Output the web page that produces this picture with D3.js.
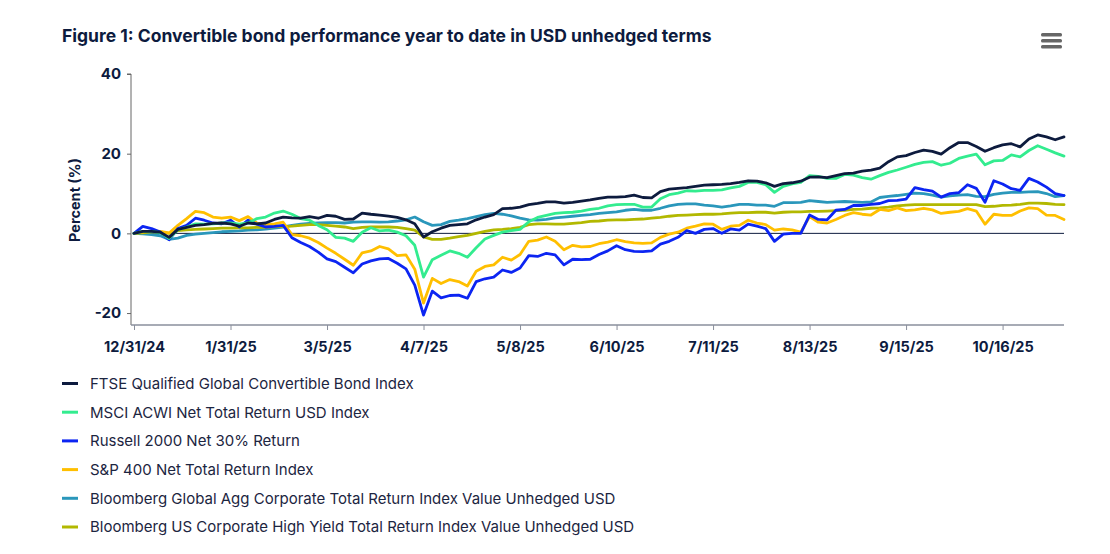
<!DOCTYPE html>
<html>
<head>
<meta charset="utf-8">
<script src="https://cdn.jsdelivr.net/npm/d3@7"></script>
<style>
  html, body { margin: 0; padding: 0; background: #fff; }
  svg { display: block; font-family: Inter, "Noto Sans", sans-serif; }
</style>
</head>
<body>
<div id="chart"></div>
<script>
// values every 2nd trading day, starting 12/31/24
const step = 2
const tickLabels = ["12/31/24", "1/31/25", "3/5/25", "4/7/25", "5/8/25", "6/10/25", "7/11/25", "8/13/25", "9/15/25", "10/16/25"]
const tickEvery = 22

const ftse = [
  0, 0.5, 0.5, 0.3, -1.0, 1.0, 1.5, 2.0, 2.2, 2.5,
  2.6, 2.4, 1.8, 2.6, 2.4, 2.6, 3.5, 4.1, 3.9, 3.8,
  4.2, 3.8, 4.5, 4.3, 3.5, 3.6, 5.1, 4.8, 4.6, 4.3,
  4.0, 3.4, 2.4, -0.9, 0.4, 1.3, 2.0, 2.2, 2.4, 3.4,
  4.1, 4.7, 6.2, 6.3, 6.6, 7.2, 7.5, 7.9, 7.9, 7.6,
  7.8, 8.1, 8.4, 8.8, 9.1, 9.1, 9.2, 9.6, 9.0, 8.9,
  10.5, 11.1, 11.3, 11.5, 11.8, 12.1, 12.2, 12.3, 12.5, 12.8,
  13.2, 13.1, 12.7, 11.8, 12.5, 12.7, 13.1, 14.1, 14.2, 14.0,
  14.5, 15.0, 15.1, 15.6, 15.9, 16.4, 18.0, 19.2, 19.5, 20.3,
  20.9, 20.6, 19.9, 21.5, 22.8, 22.8, 21.8, 20.6, 21.5, 22.2,
  22.5, 21.7, 23.7, 24.7, 24.2, 23.5, 24.2
]
const msci = [
  0, 0.5, 0.5, 0.2, -1.3, 0.9, 1.6, 2.4, 2.3, 2.4,
  2.6, 2.6, 2.3, 2.6, 3.7, 4.1, 5.1, 5.6, 4.8, 3.7,
  3.3, 2.0, 0.9, -1.0, -1.2, -2.0, 0.3, 1.4, 0.6, 0.8,
  0.3, -0.6, -3.0, -11.0, -6.6, -5.5, -4.4, -5.0, -6.0, -3.6,
  -1.4, -0.5, 0.3, 0.7, 1.0, 2.9, 4.0, 4.5, 5.0, 5.2,
  5.3, 5.6, 6.0, 6.3, 6.9, 7.2, 7.3, 7.3, 6.6, 6.6,
  8.7, 9.7, 10.1, 10.7, 10.6, 10.8, 10.8, 10.9, 11.4, 11.8,
  12.8, 12.8, 12.2, 10.3, 11.8, 12.4, 12.8, 14.5, 14.3, 13.8,
  13.8, 14.8, 14.6, 14.0, 13.6, 14.5, 15.3, 15.9, 16.6, 17.3,
  17.8, 18.0, 17.1, 17.6, 18.8, 19.4, 19.9, 17.2, 18.2, 18.3,
  19.7, 19.2, 20.8, 22.0, 21.1, 20.2, 19.4
]
const russell = [
  0, 1.75, 1.2, 0.3, -1.6, 1.2, 2.0, 3.8, 3.3, 2.6,
  2.4, 3.3, 1.6, 3.3, 2.3, 1.6, 1.75, 2.0, -1.1, -2.3,
  -3.3, -4.7, -6.4, -7.1, -8.5, -9.9, -7.7, -6.9, -6.4, -6.3,
  -7.5, -8.9, -13.0, -20.5, -14.5, -16.2, -15.6, -15.5, -16.3, -12.1,
  -11.4, -11.0, -9.2, -9.8, -8.7, -5.6, -5.8, -5.0, -5.4, -7.9,
  -6.5, -6.6, -6.5, -5.3, -4.4, -3.1, -4.1, -4.5, -4.6, -4.4,
  -2.7, -2.0, -1.0, 0.7, 0.0, 1.0, 1.2, 0.0, 1.1, 0.8,
  2.3, 1.8, 1.2, -2.0, -0.2, 0.0, 0.0, 4.6, 3.5, 3.4,
  5.8, 6.0, 7.0, 7.0, 7.3, 7.5, 8.2, 8.3, 8.6, 11.5,
  11.0, 10.6, 9.1, 10.0, 10.2, 12.2, 11.3, 7.8, 13.2, 12.4,
  11.2, 10.8, 13.8, 12.9, 11.6, 10.0, 9.5
]
const sp400 = [
  0, 0.3, 0.6, 0.5, 0.1, 2.0, 3.7, 5.5, 5.2, 4.1,
  3.8, 4.1, 3.2, 4.2, 2.6, 2.2, 2.4, 2.8, -0.3, -0.6,
  -1.2, -2.3, -3.7, -5.0, -6.5, -8.0, -4.9, -4.4, -3.3, -3.9,
  -5.6, -5.4, -9.0, -17.5, -11.3, -12.6, -11.6, -12.1, -13.2, -9.5,
  -8.3, -7.9, -6.0, -6.7, -5.3, -2.0, -1.7, -0.9, -2.0, -4.1,
  -3.0, -3.4, -3.3, -2.6, -2.2, -1.6, -2.1, -2.4, -2.5, -2.4,
  -1.0, -0.2, 0.3, 1.3, 1.8, 2.4, 2.3, 1.0, 1.8, 2.0,
  3.3, 2.6, 2.2, 0.8, 1.1, 0.9, 0.3, 4.2, 2.8, 2.6,
  3.5, 4.5, 5.2, 4.8, 4.6, 6.0, 5.7, 6.4, 5.7, 5.9,
  6.3, 5.9, 5.0, 5.3, 5.5, 6.2, 5.6, 2.3, 4.8, 4.5,
  4.5, 5.6, 6.4, 6.2, 4.6, 4.5, 3.5
]
const globalAgg = [
  0, -0.1, -0.3, -0.6, -1.5, -1.2, -0.5, -0.2, 0, 0.2,
  0.4, 0.5, 0.6, 0.8, 0.9, 1.1, 1.3, 1.6, 2.0, 2.3,
  2.5, 2.6, 2.7, 2.7, 2.6, 2.8, 2.9, 2.9, 2.8, 2.9,
  3.1, 3.4, 4.1, 2.9, 2.0, 2.2, 3.0, 3.3, 3.7, 4.2,
  4.7, 5.0, 4.8, 4.4, 3.8, 3.4, 3.3, 3.5, 3.9, 4.1,
  4.3, 4.5, 4.7, 5.0, 5.2, 5.4, 5.8, 6.0, 5.8, 5.8,
  6.3, 6.9, 7.3, 7.4, 7.4, 7.1, 6.9, 6.6, 6.9, 7.3,
  7.3, 7.1, 7.1, 6.8, 7.7, 7.7, 7.8, 8.2, 8.0, 7.8,
  7.9, 8.0, 7.9, 7.8, 7.9, 9.0, 9.3, 9.5, 9.8, 10.1,
  10.0, 9.6, 9.1, 9.4, 9.6, 9.7, 9.3, 9.2, 9.8, 10.1,
  10.3, 10.3, 10.4, 10.5, 10.0, 9.2, 9.5
]
const usHighYield = [
  0, 0.1, 0.4, 0.4, 0, 0.7, 0.9, 1.0, 1.1, 1.2,
  1.3, 1.3, 1.4, 1.4, 1.5, 1.5, 1.7, 1.7, 1.8, 2.0,
  2.2, 2.2, 2.0, 1.8, 1.6, 1.2, 1.5, 1.6, 1.6, 1.6,
  1.5, 1.2, 0.8, -0.9, -1.5, -1.5, -1.2, -0.8, -0.5, 0,
  0.5, 0.9, 1.0, 1.2, 1.5, 2.2, 2.4, 2.4, 2.3, 2.3,
  2.5, 2.7, 3.0, 3.1, 3.3, 3.4, 3.4, 3.5, 3.6, 3.8,
  4.0, 4.3, 4.5, 4.6, 4.7, 4.8, 4.8, 4.9, 5.1, 5.2,
  5.2, 5.3, 5.3, 5.1, 5.3, 5.4, 5.4, 5.5, 5.5, 5.6,
  5.7, 5.8, 6.0, 6.1, 6.3, 6.4, 6.6, 6.9, 7.1, 7.2,
  7.2, 7.2, 7.2, 7.2, 7.2, 7.2, 7.2, 6.7, 6.8, 7.0,
  7.1, 7.3, 7.6, 7.6, 7.5, 7.3, 7.2
]

const seriesNames = [
  "FTSE Qualified Global Convertible Bond Index",
  "MSCI ACWI Net Total Return USD Index",
  "Russell 2000 Net 30% Return",
  "S&P 400 Net Total Return Index",
  "Bloomberg Global Agg Corporate Total Return Index Value Unhedged USD",
  "Bloomberg US Corporate High Yield Total Return Index Value Unhedged USD"
]
const seriesValues = [ftse, msci, russell, sp400, globalAgg, usHighYield]
const seriesColors = ["#0d1b3e", "#33ec8f", "#0c25f2", "#ffbf00", "#2a97bb", "#b2b800"]
// draw order: bonds at the back, like the original
const drawOrder = [4, 5, 3, 2, 1, 0]

const W = 1110, H = 554
const ink = "#0d1b3e"
const margin = { left: 134, right: 46, top: 74, bottom: 229 }

const svg = d3.select("#chart").append("svg")
  .attr("width", W).attr("height", H)

const x = d3.scaleLinear()
  .domain([0, (ftse.length - 1) * step])
  .range([margin.left, W - margin.right])
const y = d3.scaleLinear()
  .domain([-23, 40])
  .range([H - margin.bottom, margin.top])

// title
svg.append("text")
  .attr("x", 62).attr("y", 42)
  .attr("fill", ink)
  .attr("font-size", 17.5).attr("font-weight", 700)
  .text("Figure 1: Convertible bond performance year to date in USD unhedged terms")

// menu icon
svg.append("g").selectAll("rect")
  .data([0, 1, 2])
  .enter().append("rect")
  .attr("x", 1041).attr("y", d => 33 + d * 6)
  .attr("width", 21).attr("height", 3.4).attr("rx", 1.5)
  .attr("fill", "#666")

// y axis
const yAxis = svg.append("g")
  .attr("transform", `translate(${margin.left - 3},0)`)
  .call(d3.axisLeft(y).tickValues([-20, 0, 20, 40]).tickFormat(d => String(d))
    .tickSize(4).tickPadding(6))
yAxis.select(".domain").attr("stroke", "#666").attr("d", `M-4,${y(40)}H0V${y(-23)}`)
yAxis.selectAll(".tick line").attr("stroke", "#666")
yAxis.selectAll(".tick text")
  .attr("fill", ink).attr("font-size", 15).attr("font-weight", 700)
  .attr("font-family", "Inter, sans-serif")

svg.append("text")
  .attr("transform", `translate(80,${200}) rotate(-90)`)
  .attr("text-anchor", "middle")
  .attr("fill", ink).attr("font-size", 14.5).attr("font-weight", 700)
  .text("Percent (%)")

// x axis
const xAxis = svg.append("g")
  .attr("transform", `translate(0,${y(-23)})`)
  .call(d3.axisBottom(x)
    .tickValues(tickLabels.map((d, i) => i * tickEvery))
    .tickFormat((d, i) => tickLabels[i])
    .tickSize(5).tickPadding(12))
xAxis.select(".domain").attr("stroke", "#8a8f9c").attr("stroke-width", 1.5)
  .attr("d", `M${margin.left - 3},0H${W - margin.right}`)
xAxis.selectAll(".tick line").attr("stroke", "#8a8f9c")
xAxis.selectAll(".tick text")
  .attr("fill", ink).attr("font-size", 14.5).attr("font-weight", 700)
  .attr("font-family", "Inter, sans-serif")

// zero line
svg.append("line")
  .attr("x1", margin.left - 1).attr("x2", W - margin.right)
  .attr("y1", y(0)).attr("y2", y(0))
  .attr("stroke", ink).attr("stroke-width", 1)

const line = d3.line()
  .x((d, i) => x(i * step))
  .y(d => y(d))

svg.append("g").selectAll("path")
  .data(drawOrder)
  .enter().append("path")
  .attr("d", k => line(seriesValues[k]))
  .attr("fill", "none")
  .attr("stroke", k => seriesColors[k])
  .attr("stroke-width", 2.8)
  .attr("stroke-linejoin", "round")
  .attr("stroke-linecap", "round")

// legend
const legend = svg.append("g").selectAll("g")
  .data(seriesNames)
  .enter().append("g")
  .attr("transform", (d, i) => `translate(62,${383.5 + i * 28.7})`)
legend.append("line")
  .attr("x1", 0).attr("x2", 16)
  .attr("stroke", (d, i) => seriesColors[i])
  .attr("stroke-width", 3)
legend.append("text")
  .attr("x", 28).attr("dy", "0.36em")
  .attr("fill", "#1c2541").attr("font-size", 15)
  .text(d => d)
</script>
</body>
</html>
